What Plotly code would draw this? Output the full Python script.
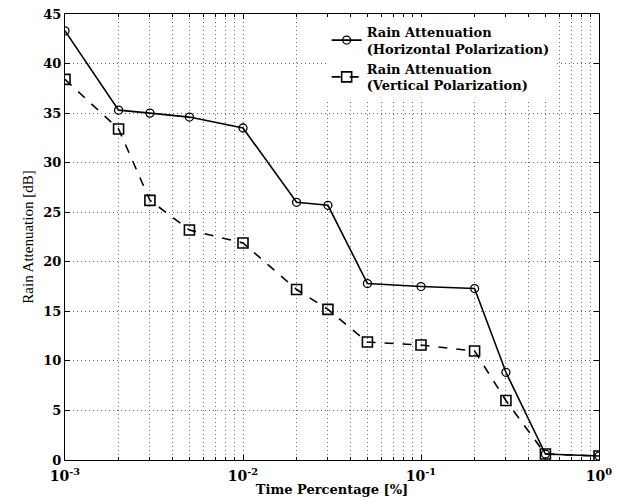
import plotly.graph_objects as go

time_pct = [0.001, 0.002, 0.003, 0.005, 0.01, 0.02, 0.03, 0.05, 0.1, 0.2, 0.3, 0.5, 1.0]
att_h = [43.3, 35.3, 35.0, 34.6, 33.5, 26.0, 25.7, 17.8, 17.5, 17.3, 8.85, 0.6, 0.4]
att_v = [38.4, 33.4, 26.2, 23.2, 21.9, 17.2, 15.2, 11.9, 11.6, 11.0, 6.0, 0.6, 0.4]
name_h = "Rain Attenuation<br>(Horizontal Polarization)"
name_v = "Rain Attenuation<br>(Vertical Polarization)"
y_ticks = [0, 5, 10, 15, 20, 25, 30, 35, 40, 45]
x_ticks = [0.001, 0.01, 0.1, 1.0]
x_ticktext = ["10<sup>-3</sup>", "10<sup>-2</sup>", "10<sup>-1</sup>", "10<sup>0</sup>"]

serif_b = "DejaVu Serif"
fig = go.Figure()
fig.add_trace(go.Scatter(x=time_pct, y=att_h, name=name_h, mode="lines+markers",
                         line=dict(color="black", width=1.6),
                         marker=dict(symbol="circle-open", size=8, color="black", line=dict(width=1.3))))
fig.add_trace(go.Scatter(x=time_pct, y=att_v, name=name_v, mode="lines+markers",
                         line=dict(color="black", width=1.6, dash="dash"),
                         marker=dict(symbol="square-open", size=10, color="black", line=dict(width=1.6))))

grid = "#666666"
gdash = "1px,3px"
fig.update_layout(
    width=618, height=497,
    margin=dict(l=65, r=19, t=14, b=37),
    plot_bgcolor="white", paper_bgcolor="white",
    font=dict(family=serif_b, color="black", size=13),
    showlegend=True,
    legend=dict(x=0.49, y=0.994, xanchor="left", yanchor="top",
                bgcolor="white", borderwidth=0,
                font=dict(family=serif_b, size=13, weight="bold"),
                tracegroupgap=0),
    xaxis=dict(type="log", range=[-3, 0], tickvals=x_ticks, ticktext=x_ticktext,
               automargin=False,
               showline=True, linecolor="black", linewidth=1, mirror="ticks",
               ticks="inside", ticklen=5, tickcolor="black", ticklabelstandoff=3,
               showgrid=True, gridcolor=grid, griddash=gdash, gridwidth=1,
               minor=dict(dtick="D1", showgrid=True, gridcolor=grid, griddash=gdash,
                          ticks="inside", ticklen=3, tickcolor="black"),
               tickfont=dict(family=serif_b, size=14, weight="bold"),
               title=dict(text="Time Percentage [%]", standoff=5,
                          font=dict(family=serif_b, size=13, weight="bold"))),
    yaxis=dict(range=[0, 45], tickvals=y_ticks, automargin=False,
               showline=True, linecolor="black", linewidth=1, mirror="ticks",
               ticks="inside", ticklen=5, tickcolor="black",
               showgrid=True, gridcolor=grid, griddash=gdash, gridwidth=1,
               zeroline=False,
               tickfont=dict(family=serif_b, size=13, weight="bold"),
               title=dict(text="Rain Attenuation [dB]", standoff=6,
                          font=dict(family="Liberation Serif", size=15))),
)
fig.write_html("out.html")
